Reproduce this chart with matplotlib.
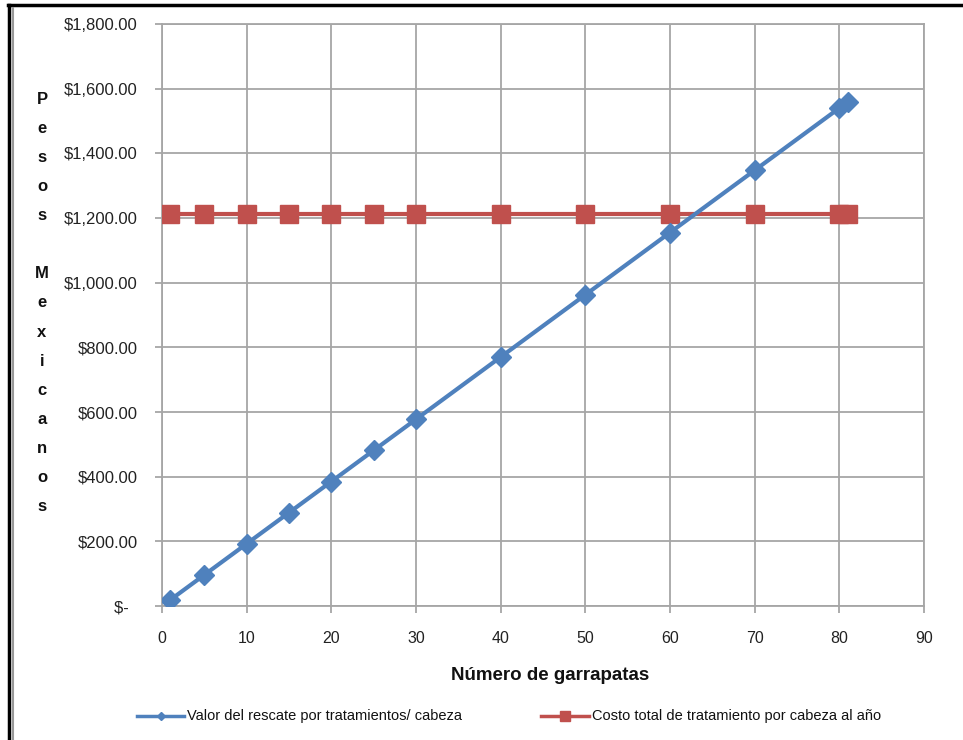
import matplotlib
matplotlib.use("Agg")
import matplotlib.pyplot as plt
from matplotlib.lines import Line2D

plt.rcParams['font.family'] = ['Liberation Sans', 'DejaVu Sans']

x_vals = [1, 5, 10, 15, 20, 25, 30, 40, 50, 60, 70, 80, 81]
valor_rescate = [19.25, 96.25, 192.5, 288.75, 385.0, 481.25, 577.5, 770.0, 962.5, 1155.0, 1347.5, 1540.0, 1559.25]
costo_total = [1212] * len(x_vals)

y_ticks = [0, 200, 400, 600, 800, 1000, 1200, 1400, 1600, 1800]
y_tick_labels = ["$-  ", "$200.00", "$400.00", "$600.00", "$800.00", "$1,000.00",
                 "$1,200.00", "$1,400.00", "$1,600.00", "$1,800.00"]
x_ticks = [0, 10, 20, 30, 40, 50, 60, 70, 80, 90]

label_rescate = "Valor del rescate por tratamientos/ cabeza"
label_costo = "Costo total de tratamiento por cabeza al año"
x_label = "Número de garrapatas"
y_label = "Pesos Mexicanos"

W, H = 963, 740
fig = plt.figure(figsize=(W / 100, H / 100), dpi=100)
ax = fig.add_axes([162 / W, 1 - 606 / H, (924 - 162) / W, (606 - 24) / H])

blue = '#4F81BD'
red = '#C0504D'
grid_c = '#A6A6A6'

ax.plot(x_vals, valor_rescate, color=blue, lw=3.0, marker='D', ms=10,
        markeredgecolor=blue, markerfacecolor=blue, zorder=4, label=label_rescate)
ax.plot(x_vals, costo_total, color=red, lw=3.0, marker='s', ms=12.5,
        markeredgecolor=red, markerfacecolor=red, zorder=3, label=label_costo)

ax.set_xlim(0, 90)
ax.set_ylim(0, 1800)
ax.set_xticks(x_ticks)
ax.set_xticklabels([str(v) for v in x_ticks])
ax.set_yticks(y_ticks)
ax.set_yticklabels(y_tick_labels)
ax.grid(True, color=grid_c, lw=1.3)
ax.set_axisbelow(True)
for s in ['left', 'bottom', 'top', 'right']:
    ax.spines[s].set_color(grid_c)
    ax.spines[s].set_linewidth(1.3)
ax.tick_params(axis='both', direction='out', length=5, width=1.3, color=grid_c,
               labelcolor='#222222')
ax.tick_params(axis='x', pad=13, labelsize=11.5)
ax.tick_params(axis='y', pad=12.5, labelsize=12)

fig.text(550 / W, 1 - 676 / H, x_label, ha='center', va='center',
         fontsize=13.5, fontweight='bold', color='#111111')

letters = []
for i, ch in enumerate(y_label.split(" ")):
    if i > 0:
        letters.append("")
    letters.extend(list(ch))
fig.text(42 / W, 1 - 303 / H, "\n".join(letters), ha='center', va='center',
         fontsize=12, fontweight='bold', linespacing=2.17, color='#111111')

# legend
def leg_item(x0, x1, color, marker, ms, text, tx):
    yy = 1 - 716 / H
    fig.add_artist(Line2D([x0 / W, x1 / W], [yy, yy], color=color, lw=2.5,
                          transform=fig.transFigure))
    fig.add_artist(Line2D([(x0 + x1) / 2 / W], [yy], color=color, marker=marker, ms=ms,
                          lw=0, transform=fig.transFigure))
    fig.text(tx / W, yy, text, ha='left', va='center', fontsize=10.5, color='#111111')

leg_item(137, 184, blue, 'D', 4, label_rescate, 187)
leg_item(541, 589, red, 's', 7, label_costo, 592)

# figure frame
fig.add_artist(Line2D([8 / W, 1], [1 - 5 / H, 1 - 5 / H], color='black', lw=2.5,
                      transform=fig.transFigure))
fig.add_artist(Line2D([9 / W, 9 / W], [0, 1 - 5 / H], color='black', lw=2.5,
                      transform=fig.transFigure))
fig.add_artist(Line2D([13 / W, 13 / W], [0, 1 - 8 / H], color='#999999', lw=1.5,
                      transform=fig.transFigure))

fig.savefig("out.png", dpi=100)
